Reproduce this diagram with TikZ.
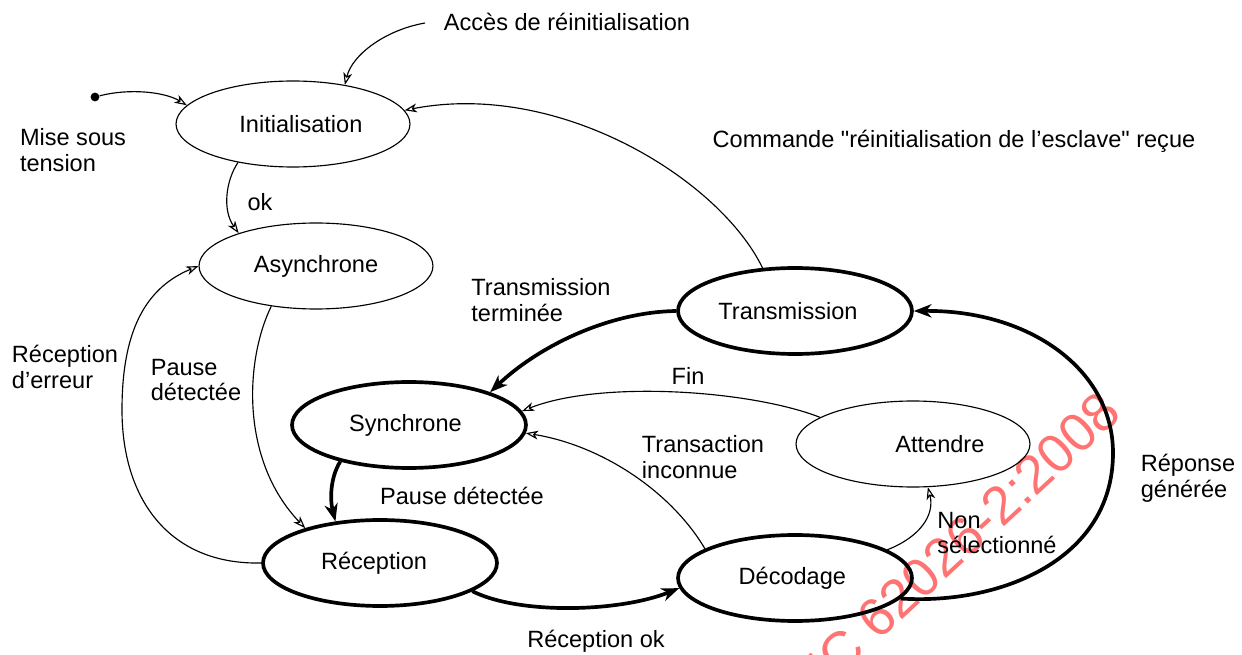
\documentclass[tikz,border=0pt]{standalone}
\usepackage{fontspec}
\setmainfont{Liberation Sans}[Ligatures=TeXOff]
\usetikzlibrary{shapes.geometric,arrows.meta}
\definecolor{wmred}{RGB}{255,115,115}
\begin{document}
\begin{tikzpicture}[x=0.02cm,y=-0.02cm,
  every node/.style={font=\fontsize{13.4}{14.7}\selectfont},
  stateA/.style={ellipse, draw, line width=0.65pt, minimum width=4.68cm, minimum height=1.72cm, inner sep=0pt},
  stateB/.style={stateA, line width=2.1pt},
  thinarr/.style={line width=0.65pt, -{Stealth[open,length=7pt,width=5pt,inset=2pt]}},
  thickarr/.style={line width=2.1pt, -{Stealth[open,length=10pt,width=7.5pt,inset=3pt]}},
  lbl/.style={align=left, inner sep=0pt},
]
\useasboundingbox (0,0) rectangle (1242,655);

% watermark
\node[font=\fontsize{30.7}{31}\selectfont, text=wmred, rotate=42.7, inner sep=0pt] (wm) at (950,551) {IEC 62026-2:2008};

% states
\node[stateA] (init) at (293,124) {\hspace*{9pt}Initialisation};
\node[stateA] (async) at (316,266) {Asynchrone};
\node[stateB] (trans) at (795,311) {Transmission\hspace*{8pt}};
\node[stateB] (sync) at (409,425) {Synchrone\hspace*{4pt}};
\node[stateA] (att) at (913,444) {\hspace*{30.6pt}Attendre};
\node[stateB] (recep) at (380,563) {Réception\hspace*{6.8pt}};
\node[stateB] (decod) at (795,578) {Décodage\hspace*{3pt}};

% power-on dot
\node[circle, fill, inner sep=0pt, minimum size=5pt] (pw) at (95,97) {};

% labels
\node[lbl] (lmise) at (73,150) {Mise sous\\tension};
\node[lbl] (acc) at (567,22) {Accès de réinitialisation};
\coordinate (accS) at (425,23);
\node[lbl] (cmd) at (954,141) {Commande "réinitialisation de l’esclave" reçue};
\node[lbl] (lok) at (260,202) {ok};
\node[lbl] (lerr) at (65,367) {Réception\\d’erreur};
\node[lbl] (lpause1) at (196,380) {Pause\\détectée};
\node[lbl] (lterm) at (541,300) {Transmission\\terminée};
\node[lbl] (lfin) at (688,376) {Fin};
\node[lbl] (ltrans) at (703,457) {Transaction\\inconnue};
\node[lbl] (lpause2) at (462,496) {Pause détectée};
\node[lbl] (lrecok) at (596,641) {Réception ok};
\node[lbl] (lnon) at (997,533) {Non\\sélectionné};
\node[lbl] (lrep) at (1188,478) {Réponse\\générée};

% connectors
\draw[thinarr] (pw) .. controls (130,88) and (165,92) .. (init.170);
\draw[thinarr] (accS) .. controls (385,30) and (352,55) .. (init.37);
\draw[thinarr] (trans.127) .. controls (720,180) and (560,80) .. (init.7);
\draw[thinarr] (init.215) .. controls (226,180) and (222,210) .. (async.157);
\draw[thinarr] (recep.180) .. controls (170,565) and (122,500) .. (122,410) .. controls (122,340) and (140,290) .. (async.180);
\draw[thinarr] (async.222) .. controls (245,360) and (240,460) .. (recep.155);
\draw[thickarr] (sync.208) .. controls (330,478) and (330,500) .. (recep.137);
\draw[thickarr] (trans.180) .. controls (610,312) and (540,345) .. (sync.22);
\draw[thinarr] (att.164) .. controls (750,390) and (600,380) .. (sync.7);
\draw[thinarr] (decod.162) .. controls (670,490) and (600,445) .. (sync.-4);
\draw[thickarr] (recep.-17) .. controls (520,615) and (620,612) .. (decod.185);
\draw[thinarr] (decod.17) .. controls (920,537) and (935,515) .. (att.289);
\draw[thickarr] (decod.-11) .. controls (1000,605) and (1113,560) .. (1113,453) .. controls (1113,370) and (1030,310) .. (trans.0);
\end{tikzpicture}
\end{document}
